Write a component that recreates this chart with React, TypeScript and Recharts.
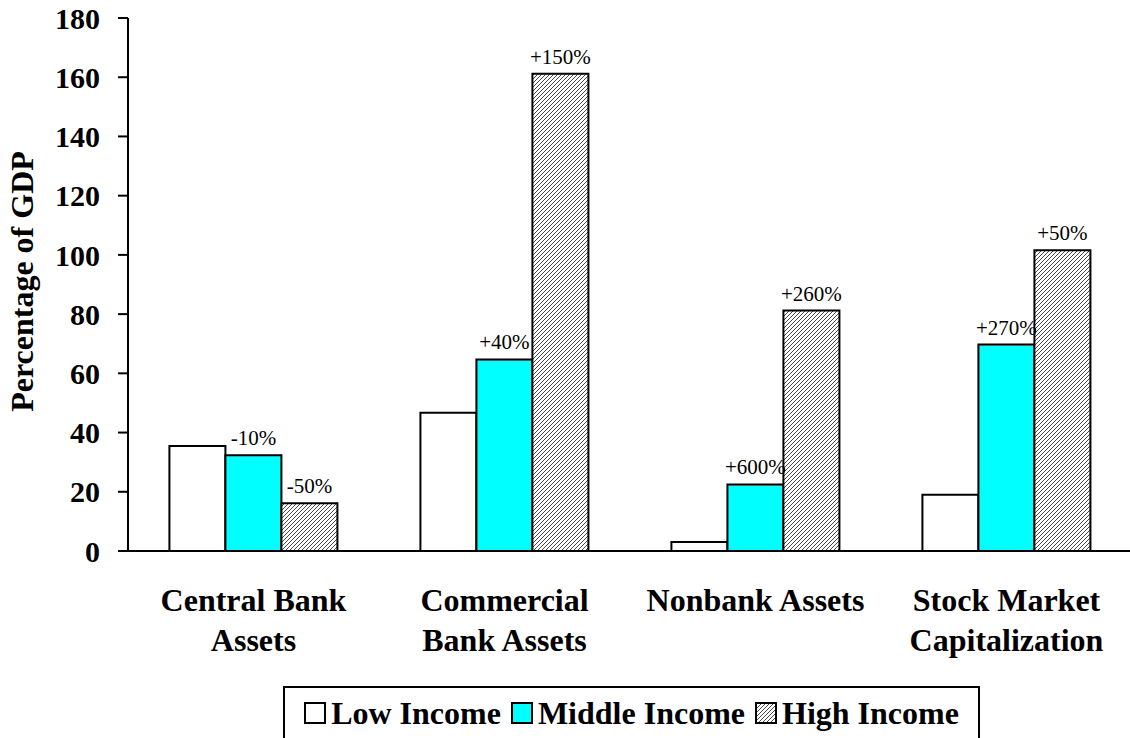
import React from 'react';
import { BarChart, Bar, XAxis, YAxis, LabelList } from 'recharts';

const categories = ['Central Bank Assets', 'Commercial Bank Assets', 'Nonbank Assets', 'Stock Market Capitalization'];
const categoryLines = [
  ['Central Bank', 'Assets'],
  ['Commercial', 'Bank Assets'],
  ['Nonbank Assets'],
  ['Stock Market', 'Capitalization'],
];
const lowIncome = [35.5, 46.7, 3, 19];
const middleIncome = [32.3, 64.7, 22.5, 69.7];
const highIncome = [16.1, 161.2, 81.2, 101.6];
const middleChange = ['-10%', '+40%', '+600%', '+270%'];
const highChange = ['-50%', '+150%', '+260%', '+50%'];
const yTicks = [0, 20, 40, 60, 80, 100, 120, 140, 160, 180];
const edgeTicks = [0, 1, 2, 3, 4];

const serif = 'Liberation Serif';

const data = categories.map((c, i) => ({
  category: c,
  low: lowIncome[i],
  middle: middleIncome[i],
  high: highIncome[i],
  middleLabel: middleChange[i],
  highLabel: highChange[i],
}));

function CategoryTick(props: any) {
  const { x, y, index } = props;
  const lines = categoryLines[index] || [];
  return (
    <text x={x} y={y} textAnchor="middle" fontFamily={serif} fontWeight="bold" fontSize={32} fill="#000">
      {lines.map((l, i) => (
        <tspan key={i} x={x} dy={i === 0 ? 52 : 40}>{l}</tspan>
      ))}
    </text>
  );
}

function YTitle(props: any) {
  const { viewBox } = props;
  const cx = viewBox.x + 22;
  const cy = viewBox.y + viewBox.height / 2 - 3;
  return (
    <text
      x={cx}
      y={cy}
      transform={`rotate(-90, ${cx}, ${cy})`}
      textAnchor="middle"
      dominantBaseline="central"
      fontFamily={serif}
      fontWeight="bold"
      fontSize={32}
      fill="#000"
    >
      Percentage of GDP
    </text>
  );
}

const legendItems = [
  { key: 'low', name: 'Low Income', fill: '#ffffff' },
  { key: 'mid', name: 'Middle Income', fill: '#00ffff' },
  { key: 'high', name: 'High Income', fill: 'url(#hatchLegend)' },
];

const hatchPath = 'M-1,1 l2,-2 M0,4 l4,-4 M3,5 l2,-2';

export default function App() {
  return (
    <div style={{ position: 'absolute', left: 0, top: 0, width: 1130, height: 738, background: '#fff', overflow: 'hidden' }}>
      <BarChart
        width={1132}
        height={738}
        data={data}
        margin={{ top: 18, right: 0, bottom: 87, left: 0 }}
        barCategoryGap="16.5%"
        barGap={0}
      >
        <defs>
          <pattern id="hatch" patternUnits="userSpaceOnUse" width="4" height="4">
            <rect width="4" height="4" fill="#fff" />
            <path d={hatchPath} stroke="#333" strokeWidth={0.9} />
          </pattern>
        </defs>
        <XAxis
          xAxisId="edge"
          type="number"
          domain={[0, 4]}
          ticks={edgeTicks}
          tick={false}
          axisLine={false}
          tickLine={{ stroke: '#000', strokeWidth: 2 }}
          tickSize={11}
          height={0}
        />
        <XAxis
          xAxisId="cat"
          dataKey="category"
          tick={<CategoryTick />}
          tickLine={false}
          axisLine={{ stroke: '#000', strokeWidth: 2 }}
          interval={0}
          height={100}
        />
        <YAxis
          domain={[0, 180]}
          ticks={yTicks}
          width={128}
          tickSize={10}
          tickMargin={18}
          axisLine={{ stroke: '#000', strokeWidth: 2 }}
          tickLine={{ stroke: '#000', strokeWidth: 2 }}
          tick={{ fontFamily: serif, fontWeight: 'bold', fontSize: 30, fill: '#000' }}
          label={<YTitle />}
        />
        <Bar xAxisId="cat" dataKey="low" fill="#ffffff" stroke="#000" strokeWidth={2} isAnimationActive={false} />
        <Bar xAxisId="cat" dataKey="middle" fill="#00ffff" stroke="#000" strokeWidth={2} isAnimationActive={false}>
          <LabelList dataKey="middleLabel" position="top" offset={10} fontFamily={serif} fontSize={21} fill="#000" />
        </Bar>
        <Bar xAxisId="cat" dataKey="high" fill="url(#hatch)" stroke="#000" strokeWidth={2} isAnimationActive={false}>
          <LabelList dataKey="highLabel" position="top" offset={10} fontFamily={serif} fontSize={21} fill="#000" />
        </Bar>
      </BarChart>
      <div
        style={{
          position: 'absolute',
          left: 283,
          top: 686,
          width: 697,
          height: 60,
          border: '2px solid #000',
          display: 'flex',
          alignItems: 'flex-start',
          justifyContent: 'center',
          paddingTop: 8,
          boxSizing: 'border-box',
          fontFamily: serif,
          fontWeight: 'bold',
          fontSize: 32,
          lineHeight: '34px',
        }}
      >
        <svg width={0} height={0} style={{ position: 'absolute' }}>
          <defs>
            <pattern id="hatchLegend" patternUnits="userSpaceOnUse" width="4" height="4">
              <rect width="4" height="4" fill="#fff" />
              <path d={hatchPath} stroke="#333" strokeWidth={0.9} />
            </pattern>
          </defs>
        </svg>
        {legendItems.map((it, i) => (
          <div key={it.key} style={{ display: 'flex', alignItems: 'center', marginRight: i < 2 ? 10 : 0 }}>
            <svg width={22} height={22} style={{ marginRight: 5 }}>
              <rect x={1} y={1} width={20} height={20} fill={it.fill} stroke="#000" strokeWidth={2} />
            </svg>
            <span>{it.name}</span>
          </div>
        ))}
      </div>
    </div>
  );
}
